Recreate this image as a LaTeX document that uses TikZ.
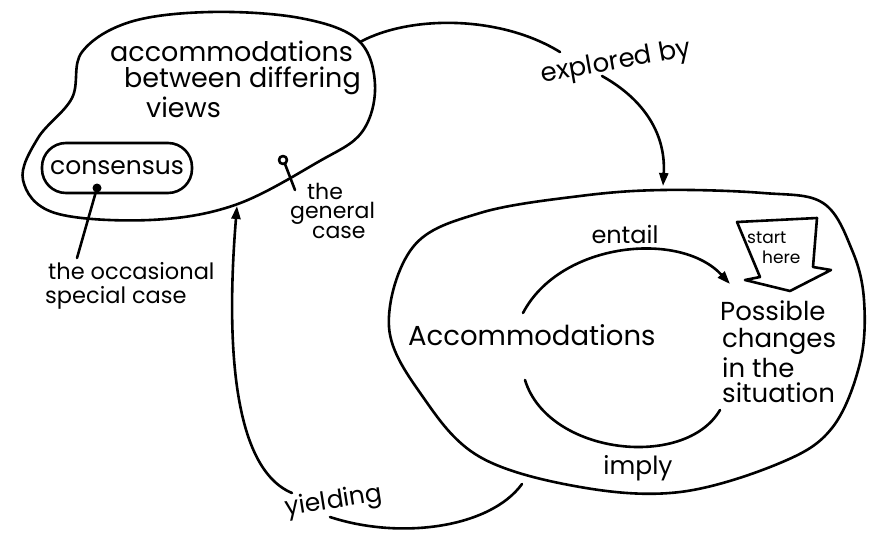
\documentclass[tikz,border=0pt]{standalone}
\usepackage{fontspec}
\setmainfont{Poppins}
\usetikzlibrary{arrows.meta}
\begin{document}
\begin{tikzpicture}[x=1pt,y=-1pt,
  ink/.style={line width=2.6pt, line cap=round, line join=round},
  arr/.style={ink, -{Triangle[length=13pt,width=9pt]}},
  txt/.style={inner sep=0pt, font=\fontsize{#1}{#1}\selectfont},
  lbl/.style={txt=#1, anchor=base west},
]
\useasboundingbox[fill=white] (0,0) rectangle (875,535);

% top-left blob
\draw[ink] plot[smooth cycle, tension=0.6] coordinates {
  (82,52) (130,22) (210,12) (300,18) (358,40) (375,85) (362,132)
  (318,162) (235,205) (150,220) (55,213) (23,180) (38,138) (72,98)};
\coordinate (b1out) at (360,42);
\coordinate (b1in) at (237,206);

% big blob
\draw[ink] plot[smooth cycle, tension=0.6] coordinates {
  (413,247) (480,213) (580,196) (663,190) (763,193) (823,203)
  (852,250) (864,300) (860,363) (832,428) (780,463) (680,492)
  (580,487) (480,457) (423,397) (389,327)};
\coordinate (b2top) at (663,186);
\coordinate (b2out) at (522,484);

% texts in top-left blob
\node[lbl=27] (t1) at (110,62) {accommodations};
\node[lbl=27] (t2) at (124,88) {between differing};
\node[lbl=27] (t3) at (146,117) {views};

\node[draw, ink, rounded corners=24pt, minimum width=150pt, minimum height=50pt,
      txt=25] (cons) at (117,168) {consensus};
\fill (97,188) circle (4.5pt);
\coordinate (spdot) at (97,188);
\node[lbl=22.5] (occ1) at (48,279) {the occasional};
\node[lbl=22.5] (occ2) at (45,303) {special case};
\coordinate (occtop) at (77,258);
\draw[ink] (spdot) -- (occtop);

\draw[ink] (283,160) circle (4pt);
\coordinate (gcdot) at (285,164);
\coordinate (gcend) at (295,190);
\draw[ink] (gcdot) -- (gcend);
\node[lbl=22] (gc1) at (307,199) {the};
\node[lbl=22] (gc2) at (290,218) {general};
\node[lbl=22] (gc3) at (312,238) {case};

% explored by
\node[txt=26, rotate=10] (expl) at (616,63) {explored by};
\coordinate (e1) at (560,52);
\coordinate (e2) at (602,76);
\draw[ink] (b1out) .. controls (410,15) and (500,15) .. (e1);
\draw[arr] (e2) .. controls (645,100) and (666,135) .. (b2top);

% inner texts
\node[lbl=27.5] (acc) at (408,345) {Accommodations};
\node[lbl=26] (p1) at (720,320) {Possible};
\node[lbl=26] (p2) at (722,347) {changes};
\node[lbl=26] (p3) at (722,377) {in the};
\node[lbl=26] (p4) at (722,402) {situation};

\node[txt=24] (entail) at (625,234) {entail};
\node[txt=25] (imply) at (638,468) {imply};
\coordinate (en1) at (523,313);
\coordinate (en2) at (730,284);
\coordinate (im1) at (525,380);
\coordinate (im2) at (720,410);
\draw[arr] (en1) .. controls (560,242) and (680,230) .. (en2);
\draw[ink] (im1) .. controls (548,455) and (685,470) .. (im2);

% start here block arrow
\draw[ink] (737,222) -- (817,218) -- (813,267) -- (831,270) -- (790,291)
  -- (745,280) -- (760,277) -- cycle;
\node[lbl=17] (st1) at (747,243) {start};
\node[lbl=17] (st2) at (762,263) {here};

% yielding
\node[txt=25, rotate=9] (yield) at (334,502) {yielding};
\coordinate (y1) at (330,517);
\coordinate (y2) at (292,493);
\draw[ink] (b2out) .. controls (490,528) and (400,540) .. (y1);
\draw[arr] (y2) .. controls (232,468) and (226,340) .. (b1in);
\end{tikzpicture}
\end{document}
